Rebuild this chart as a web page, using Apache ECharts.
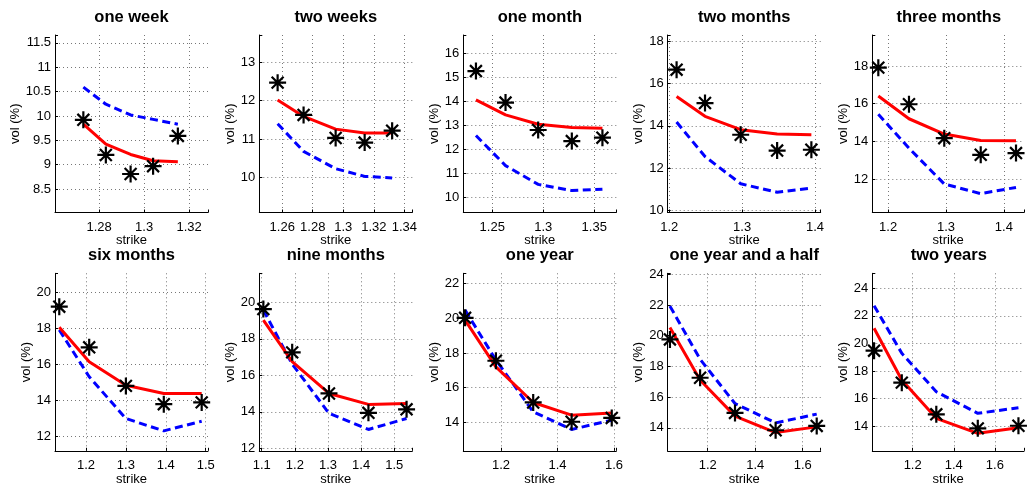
<!DOCTYPE html>
<html>
<head>
<meta charset="utf-8">
<script src="https://cdn.jsdelivr.net/npm/echarts@6/dist/echarts.min.js"></script>
<style>
  html, body { margin: 0; padding: 0; background: #fff; }
  #chart { width: 1027px; height: 489px; }
</style>
</head>
<body>
<div id="chart"></div>
<script>
// one panel per maturity
const tenors = ['one week', 'two weeks', 'one month', 'two months', 'three months',
  'six months', 'nine months', 'one year', 'one year and a half', 'two years']

// strikes of the five quotes in each panel
const strikes = [
  [1.273, 1.283, 1.294, 1.304, 1.315],
  [1.257, 1.274, 1.295, 1.314, 1.332],
  [1.234, 1.263, 1.295, 1.328, 1.358],
  [1.210, 1.249, 1.298, 1.348, 1.395],
  [1.183, 1.236, 1.297, 1.360, 1.421],
  [1.133, 1.208, 1.300, 1.395, 1.490],
  [1.105, 1.192, 1.303, 1.422, 1.537],
  [1.073, 1.182, 1.314, 1.450, 1.592],
  [1.041, 1.168, 1.315, 1.486, 1.659],
  [1.012, 1.147, 1.315, 1.517, 1.715],
]

// market quotes (black stars)
const marketVol = [
  [9.92, 9.20, 8.81, 8.97, 9.59],
  [12.47, 11.63, 11.03, 10.91, 11.22],
  [15.26, 13.95, 12.81, 12.35, 12.49],
  [16.66, 15.08, 13.58, 12.83, 12.87],
  [17.91, 15.97, 14.17, 13.29, 13.38],
  [19.22, 16.95, 14.80, 13.78, 13.88],
  [19.63, 17.26, 15.01, 13.95, 14.14],
  [20.02, 17.55, 15.15, 14.04, 14.26],
  [19.76, 17.26, 14.97, 13.84, 14.12],
  [19.47, 17.15, 14.85, 13.83, 14.02],
]

// calibrated model (red solid)
const fitVol = [
  [9.83, 9.42, 9.21, 9.08, 9.06],
  [12.02, 11.59, 11.26, 11.16, 11.16],
  [14.06, 13.44, 13.05, 12.91, 12.88],
  [15.39, 14.45, 13.82, 13.61, 13.58],
  [16.41, 15.20, 14.39, 14.05, 14.03],
  [18.07, 16.15, 14.84, 14.38, 14.38],
  [19.03, 16.75, 15.01, 14.41, 14.46],
  [19.89, 17.20, 15.15, 14.42, 14.55],
  [20.54, 17.11, 14.76, 13.69, 14.06],
  [21.10, 17.34, 14.56, 13.47, 13.88],
]

// second model (blue dashed)
const guessVol = [
  [10.59, 10.24, 10.02, 9.93, 9.83],
  [11.40, 10.68, 10.23, 10.03, 9.99],
  [12.58, 11.33, 10.55, 10.29, 10.35],
  [14.18, 12.55, 11.26, 10.86, 11.05],
  [15.44, 13.64, 11.74, 11.23, 11.56],
  [17.92, 15.31, 12.98, 12.29, 12.83],
  [19.58, 16.62, 13.92, 13.04, 13.64],
  [20.46, 17.59, 14.61, 13.60, 14.13],
  [21.93, 18.47, 15.58, 14.32, 14.89],
  [22.74, 19.28, 16.49, 14.92, 15.33],
]

// axis limits and tick steps
const xRange = [
  [1.2604, 1.3284], [1.245, 1.3452], [1.2216, 1.3716], [1.1978, 1.4078], [1.1726, 1.4348],
  [1.1223, 1.5058], [1.0928, 1.5543], [1.0666, 1.6081], [1.0316, 1.6758], [1.0034, 1.742],
]
const yRange = [
  [8.02, 11.66], [9.09, 13.71], [9.38, 16.76], [9.9, 18.3], [10.23, 19.64],
  [11.18, 21.08], [11.87, 21.59], [12.37, 22.58], [12.5, 24.07], [12.2, 25.09],
]
const xStep = [0.02, 0.02, 0.05, 0.1, 0.1, 0.1, 0.1, 0.2, 0.2, 0.2]
const yStep = [0.5, 1, 1, 2, 2, 2, 2, 2, 2, 2]

// 布局
const PLOT_W = 153
const PLOT_H = 177.5
const COL_LEFT = [55, 259.3, 463.3, 667.7, 872.3]
const ROW_TOP = [35, 273.3]
const FONT = 'Liberation Sans, Arial, sans-serif'

// 星号标记
const STAR = 'path://M0 -10L0 10M-10 0L10 0M-7 -7L7 7M-7 7L7 -7'

function tickFormatter(step) {
  return function (v) {
    const k = v / step
    if (Math.abs(k - Math.round(k)) > 1e-6) return ''
    return String(Number(v.toFixed(4)))
  }
}

const grid = []
const xAxis = []
const yAxis = []
const title = []
const series = []

tenors.forEach((name, i) => {
  const row = Math.floor(i / 5)
  const col = i % 5
  const left = COL_LEFT[col]
  const top = ROW_TOP[row]

  grid.push({ left: left, top: top, width: PLOT_W, height: PLOT_H })

  title.push({
    text: name,
    left: left + PLOT_W / 2,
    top: row === 0 ? 9 : 247,
    textAlign: 'center',
    padding: 0,
    textStyle: { fontSize: 16.5, fontWeight: 'bold', color: '#000', fontFamily: FONT },
  })

  const axisCommon = {
    axisLine: { show: true, onZero: false, lineStyle: { color: '#000', width: 1 } },
    axisTick: { show: true, inside: true, length: 3, lineStyle: { color: '#000' } },
    splitLine: {
      show: true,
      showMinLine: false,
      showMaxLine: false,
      lineStyle: { color: '#777', width: 1, type: [1, 3] },
    },
    nameLocation: 'middle',
    nameTextStyle: { fontSize: 13, color: '#000', fontFamily: FONT },
  }

  xAxis.push(Object.assign({}, axisCommon, {
    type: 'value',
    gridIndex: i,
    min: xRange[i][0],
    max: xRange[i][1],
    minInterval: xStep[i],
    maxInterval: xStep[i],
    name: 'strike',
    nameGap: 21,
    axisLabel: {
      margin: 8, fontSize: 13, color: '#000', fontFamily: FONT,
      formatter: tickFormatter(xStep[i]),
    },
  }))

  yAxis.push(Object.assign({}, axisCommon, {
    type: 'value',
    gridIndex: i,
    min: yRange[i][0],
    max: yRange[i][1],
    minInterval: yStep[i],
    maxInterval: yStep[i],
    name: 'vol (%)',
    nameGap: i === 0 ? 33 : 22,
    axisLabel: {
      margin: 4, fontSize: 13, color: '#000', fontFamily: FONT,
      formatter: tickFormatter(yStep[i]),
    },
  }))

  const pts = (vals) => strikes[i].map((k, j) => [k, vals[j]])

  series.push({
    type: 'line',
    xAxisIndex: i,
    yAxisIndex: i,
    data: pts(guessVol[i]),
    showSymbol: false,
    lineStyle: { color: '#0000ff', width: 3, type: [8, 4.5] },
    z: 2,
  })
  series.push({
    type: 'line',
    xAxisIndex: i,
    yAxisIndex: i,
    data: pts(fitVol[i]),
    showSymbol: false,
    lineStyle: { color: '#ff0000', width: 3 },
    z: 3,
  })
  series.push({
    type: 'scatter',
    xAxisIndex: i,
    yAxisIndex: i,
    data: pts(marketVol[i]),
    symbol: STAR,
    symbolSize: 17,
    itemStyle: { color: '#000', borderColor: '#000', borderWidth: 2.2, opacity: 1 },
    z: 4,
  })
})

const chart = echarts.init(document.getElementById('chart'), null, { renderer: 'canvas' })
chart.setOption({
  animation: false,
  backgroundColor: '#fff',
  title: title,
  grid: grid,
  xAxis: xAxis,
  yAxis: yAxis,
  series: series,
})
</script>
</body>
</html>
